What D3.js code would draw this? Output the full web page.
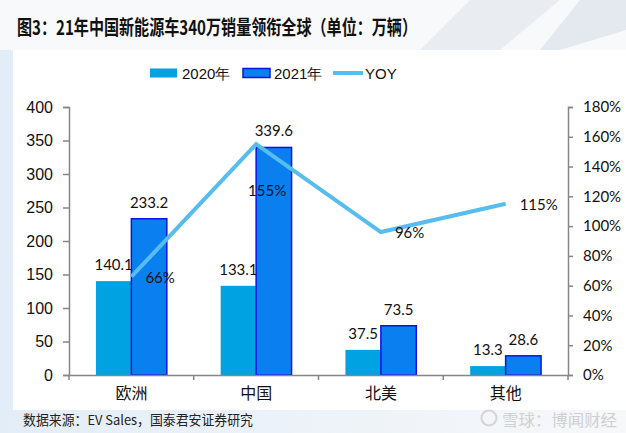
<!DOCTYPE html>
<html>
<head>
<meta charset="utf-8">
<script src="https://cdn.jsdelivr.net/npm/d3@7"></script>
<style>
  body { margin:0; background:#eef2f6; }
  svg { display:block; }
</style>
</head>
<body>
<svg></svg>
<script>
// data
var regions = ["欧洲","中国","北美","其他"];
var sales2020 = [140.1, 133.1, 37.5, 13.3];
var sales2021 = [233.2, 339.6, 73.5, 28.6];
var yoy = [0.66, 1.55, 0.96, 1.15];
var yoyLabels = ["66%","155%","96%","115%"];
var leftTicks = [0,50,100,150,200,250,300,350,400];
var rightTicks = [0,0.2,0.4,0.6,0.8,1.0,1.2,1.4,1.6,1.8];

var screen = { width:626, height:433 };

var svg = d3.select("svg")
  .attr("width", screen.width)
  .attr("height", screen.height);

var margins = { top:107, bottom:58, left:69, right:58 };
var width = screen.width - margins.left - margins.right;
var height = screen.height - margins.top - margins.bottom;

// background
var bg = svg.append("defs").append("linearGradient")
  .attr("id","bgGrad").attr("x1",0).attr("y1",0).attr("x2",1).attr("y2",0);
bg.append("stop").attr("offset","0%").attr("stop-color","#e3edf7");
bg.append("stop").attr("offset","100%").attr("stop-color","#f7f8fa");
svg.append("rect").attr("width",screen.width).attr("height",screen.height).attr("fill","url(#bgGrad)");
svg.append("rect").attr("x",0).attr("y",0).attr("width",screen.width).attr("height",50).attr("fill","#f8f9fb");
svg.append("polygon").attr("points","470,0 560,0 500,50 420,50").attr("fill","#e9edf2");
svg.append("polygon").attr("points","580,0 626,0 626,30 560,50 540,50").attr("fill","#e4e9ef");
svg.append("rect").attr("x",13).attr("y",50).attr("width",613).attr("height",360).attr("fill","#ffffff");

// title
svg.append("text")
  .attr("x",17).attr("y",35)
  .attr("font-family","'Noto Sans CJK SC', sans-serif")
  .attr("font-weight","bold")
  .attr("font-size",20)
  .attr("textLength",400)
  .attr("lengthAdjust","spacingAndGlyphs")
  .attr("fill","#111")
  .text("图3：21年中国新能源车340万销量领衔全球（单位：万辆）");

// scales
var x0 = d3.scaleBand().domain(regions).range([0,width]).padding(0);
var x1 = d3.scaleBand().domain(["2020","2021"]).range([0,x0.bandwidth()]).paddingOuter(0.76);
var yScale = d3.scaleLinear().domain([0,400]).range([height,0]);
var y2Scale = d3.scaleLinear().domain([0,1.8]).range([height,0]);

var plot = svg.append("g")
  .attr("transform","translate("+margins.left+","+margins.top+")");

// axes
var yAxis = d3.axisLeft(yScale).tickValues(leftTicks).tickSize(6).tickPadding(10);
var yG = plot.append("g").call(yAxis);
yG.selectAll("text").attr("font-family","'Liberation Sans', Arial, sans-serif").attr("font-size",16).attr("fill","#111");

var y2Axis = d3.axisRight(y2Scale).tickValues(rightTicks).tickSize(5).tickPadding(10)
  .tickFormat(d3.format(".0%"));
var y2G = plot.append("g").attr("transform","translate("+width+",0)").call(y2Axis);
y2G.selectAll("text").attr("font-family","Lato, sans-serif").attr("font-size",15).attr("fill","#111");

[yG,y2G].forEach(function(g){
  g.select(".domain").attr("stroke","#868686").attr("stroke-width",1.5);
  g.selectAll(".tick line").attr("stroke","#868686").attr("stroke-width",1.5);
});

// bars
var groups = plot.selectAll(".grp")
  .data(regions)
  .enter().append("g")
  .attr("transform",function(d){ return "translate("+x0(d)+",0)"; });

groups.append("rect")
  .attr("x",x1("2020"))
  .attr("width",x1.bandwidth())
  .attr("y",function(d,i){ return yScale(sales2020[i]); })
  .attr("height",function(d,i){ return height - yScale(sales2020[i]); })
  .attr("fill","#00a2e2");

groups.append("rect")
  .attr("x",x1("2021"))
  .attr("width",x1.bandwidth())
  .attr("y",function(d,i){ return yScale(sales2021[i]); })
  .attr("height",function(d,i){ return height - yScale(sales2021[i]); })
  .attr("fill","#0a80f0")
  .attr("stroke","#0a14e0")
  .attr("stroke-width",1.5);

// x axis
var xAxis = d3.axisBottom(x0).tickSize(0).tickPadding(13);
var xG = plot.append("g").attr("transform","translate(0,"+height+")").call(xAxis);
xG.select(".domain").attr("stroke","#868686").attr("stroke-width",1.5);
xG.selectAll("text").attr("font-family","'Noto Sans CJK SC', sans-serif").attr("font-size",16).attr("fill","#111");
xG.selectAll(".sep")
  .data(d3.range(regions.length+1))
  .enter().append("line")
  .attr("x1",function(i){ return i*x0.step(); })
  .attr("x2",function(i){ return i*x0.step(); })
  .attr("y1",0).attr("y2",5)
  .attr("stroke","#868686").attr("stroke-width",1.5);

// bar labels
var labelFont = "Lato, sans-serif";
groups.append("text")
  .attr("x",x1("2020")+x1.bandwidth()/2)
  .attr("y",function(d,i){ return yScale(sales2020[i]) - 11; })
  .attr("text-anchor","middle")
  .attr("font-family",labelFont).attr("font-size",15).attr("fill","#111")
  .text(function(d,i){ return sales2020[i].toFixed(1); });

groups.append("text")
  .attr("x",x1("2021")+x1.bandwidth()/2)
  .attr("y",function(d,i){ return yScale(sales2021[i]) - 11; })
  .attr("text-anchor","middle")
  .attr("font-family",labelFont).attr("font-size",15).attr("fill","#111")
  .text(function(d,i){ return sales2021[i].toFixed(1); });

// YOY line
var line = d3.line()
  .x(function(d,i){ return x0(regions[i]) + x0.bandwidth()/2; })
  .y(function(d){ return y2Scale(d); });

plot.append("path")
  .datum(yoy)
  .attr("d",line)
  .attr("fill","none")
  .attr("stroke","#56bdee")
  .attr("stroke-width",4);

plot.selectAll(".yoyLbl")
  .data(yoy)
  .enter().append("text")
  .attr("x",function(d,i){
    var cx = x0(regions[i]) + x0.bandwidth()/2;
    return i==1 ? cx + 11 : cx + 14;
  })
  .attr("y",function(d,i){
    var cy = y2Scale(d);
    return i==1 ? cy + 52 : cy + 6;
  })
  .attr("text-anchor",function(d,i){ return i==1 ? "middle" : "start"; })
  .attr("font-family",labelFont).attr("font-size",15).attr("fill","#111")
  .text(function(d,i){ return yoyLabels[i]; });

// legend
var legend = svg.append("g").attr("transform","translate(150,73)");
legend.append("rect").attr("x",0).attr("y",-4.5).attr("width",27).attr("height",9).attr("fill","#00a2e2");
legend.append("text").attr("x",32).attr("y",6)
  .attr("font-family","'Liberation Sans', Arial, sans-serif").attr("font-size",15).attr("fill","#111").text("2020年");
legend.append("rect").attr("x",93).attr("y",-4.5).attr("width",27).attr("height",9)
  .attr("fill","#0a80f0").attr("stroke","#0a14e0").attr("stroke-width",1.5);
legend.append("text").attr("x",124).attr("y",6)
  .attr("font-family","'Liberation Sans', Arial, sans-serif").attr("font-size",15).attr("fill","#111").text("2021年");
legend.append("line").attr("x1",183).attr("x2",213).attr("y1",0).attr("y2",0)
  .attr("stroke","#56bdee").attr("stroke-width",4);
legend.append("text").attr("x",215).attr("y",6)
  .attr("font-family","'Liberation Sans', Arial, sans-serif").attr("font-size",15).attr("fill","#111").text("YOY");

// source + watermark
svg.append("text").attr("x",23).attr("y",425)
  .attr("font-family","'Noto Sans CJK SC', sans-serif").attr("font-size",13.5)
  .attr("textLength",230).attr("lengthAdjust","spacingAndGlyphs")
  .attr("fill","#222")
  .text("数据来源：EV Sales，国泰君安证券研究");

svg.append("circle").attr("cx",489).attr("cy",418).attr("r",7.5)
  .attr("fill","none").attr("stroke","#d4d4d4").attr("stroke-width",2);
svg.append("text").attr("x",502).attr("y",426)
  .attr("font-family","'Noto Sans CJK SC', sans-serif").attr("font-size",16)
  .attr("textLength",115).attr("lengthAdjust","spacingAndGlyphs")
  .attr("fill","#d0d0d0")
  .text("雪球：博闻财经");
</script>
</body>
</html>
